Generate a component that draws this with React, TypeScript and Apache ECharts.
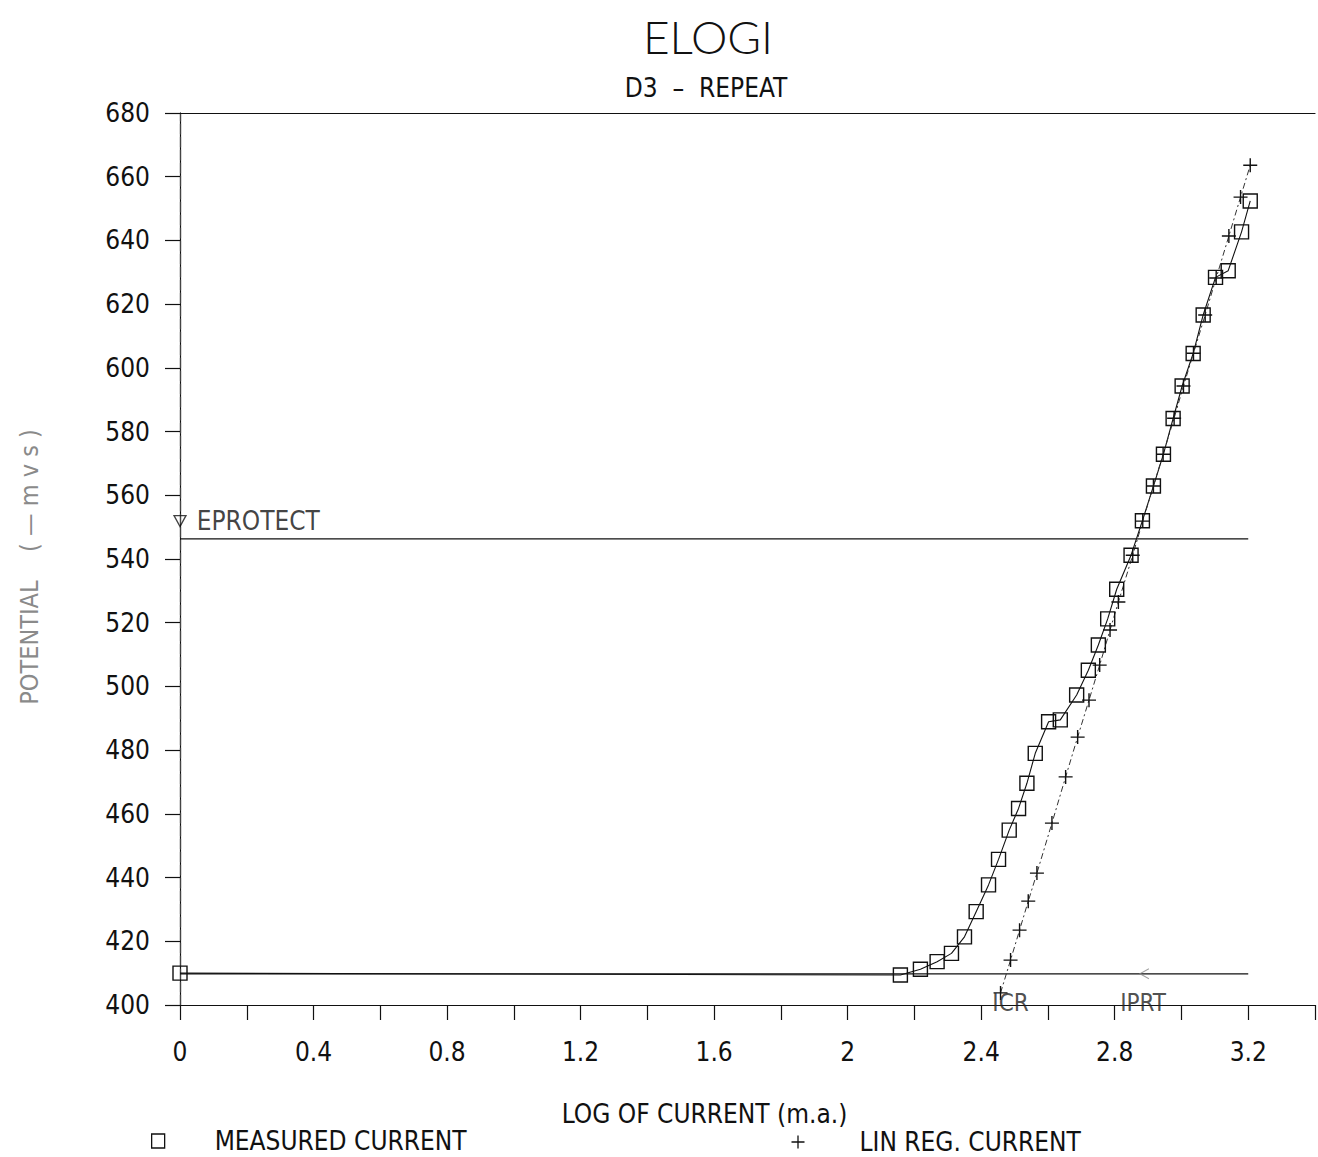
import React, { useEffect, useRef } from "react";
import * as echarts from "echarts";

// ---- data ----
const measuredX = [0, 2.158, 2.218, 2.268, 2.311, 2.35, 2.385, 2.422, 2.452, 2.484, 2.512, 2.537, 2.562, 2.602, 2.637, 2.686, 2.721, 2.751, 2.779, 2.806, 2.849, 2.883, 2.916, 2.946, 2.975, 3.002, 3.035, 3.065, 3.102, 3.14, 3.18, 3.206];
const measuredY = [410.0, 409.4, 411.2, 413.6, 416.2, 421.4, 429.3, 437.7, 445.7, 454.9, 461.7, 469.6, 479.0, 488.9, 489.5, 497.3, 505.1, 513.0, 521.2, 530.5, 541.2, 552.0, 562.9, 572.9, 584.1, 594.3, 604.5, 616.6, 628.4, 630.5, 642.7, 652.4];

const linRegX = [2.458, 2.488, 2.515, 2.541, 2.567, 2.612, 2.653, 2.689, 2.723, 2.755, 2.786, 2.811, 2.854, 2.884, 2.916, 2.945, 2.978, 3.006, 3.036, 3.071, 3.104, 3.142, 3.177, 3.206];
const linRegY = [403.8, 414.1, 423.5, 432.6, 441.4, 457.1, 471.6, 484.1, 495.7, 506.7, 517.7, 526.5, 541.2, 551.9, 562.9, 572.9, 584.2, 594.3, 604.6, 616.6, 628.2, 641.4, 653.6, 663.6];

const refLineX = [0, 3.2];
const eprotectY = 546.3;
const eprotectMarkY = 551.9;
const icorrY = 409.8;
const icrLabel = { x: 2.488, y: 400.6, text: "ICR" };
const iprtLabel = { x: 2.885, y: 400.6, text: "IPRT" };
const iprtArrow = { x: 2.88, y: 409.8 };

const xMin = 0;
const xMax = 3.4;
const xStep = 0.2;
const yMin = 400;
const yMax = 680;
const yStep = 20;

const titleText = "ELOGI";
const subTitleText = "D3  \u2013  REPEAT";
const xName = "LOG OF CURRENT (m.a.)";
const yName = "POTENTIAL    ( \u2014 m v s )";
const measuredName = "MEASURED CURRENT";
const linRegName = "LIN REG. CURRENT";

const FONT = "'Liberation Sans Narrow', 'DejaVu Sans Condensed', 'Liberation Sans', sans-serif";
const TITLE_FONT = "Lato, 'Liberation Sans', sans-serif";
const INK = "#111";

export default function App() {
  const ref = useRef<HTMLDivElement>(null);

  useEffect(() => {
    if (!ref.current) return;
    const chart = echarts.init(ref.current, undefined, { renderer: "svg" });

    const measured = measuredX.map((x, i) => [x, measuredY[i]]);
    const linReg = linRegX.map((x, i) => [x, linRegY[i]]);
    const eprotectLine = refLineX.map((x) => [x, eprotectY]);
    const icorrLine = refLineX.map((x) => [x, icorrY]);

    const option: any = {
      animation: false,
      backgroundColor: "#fff",
      textStyle: { fontFamily: FONT, color: INK },
      title: [
        {
          text: titleText,
          left: 703,
          top: 8,
          textAlign: "center",
          textStyle: { fontFamily: TITLE_FONT, fontSize: 46, fontWeight: 300, color: INK },
        },
        {
          text: subTitleText,
          left: 701,
          top: 70,
          textAlign: "center",
          textStyle: { fontFamily: FONT, fontSize: 26, fontWeight: "normal", color: INK },
        },
      ],
      grid: { left: 180, right: 1, top: 113, bottom: 152, containLabel: false },
      legend: [
        {
          left: 151,
          top: 1128,
          padding: 0,
          itemWidth: 13,
          itemHeight: 14,
          data: [
            {
              name: measuredName,
              icon: "rect",
              itemStyle: { color: "transparent", borderColor: INK, borderWidth: 1.3 },
            },
          ],
          textStyle: { fontFamily: FONT, fontSize: 26, lineHeight: 26, color: INK, padding: [0, 0, 0, 45] },
        },
        {
          left: 789,
          top: 1129,
          padding: 0,
          itemWidth: 13,
          itemHeight: 13,
          data: [
            {
              name: linRegName,
              icon: "path://M7,0V14M0,7H14",
              itemStyle: { color: "none", borderColor: INK, borderWidth: 1.3 },
            },
          ],
          textStyle: { fontFamily: FONT, fontSize: 26, lineHeight: 26, color: INK, padding: [0, 0, 0, 50] },
        },
      ],
      xAxis: [
        {
          type: "value",
          min: xMin,
          max: xMax,
          interval: xStep,
          name: xName,
          nameLocation: "middle",
          nameGap: 96,
          nameTextStyle: { fontFamily: FONT, fontSize: 26, color: INK, padding: [0, 86, 0, 0] },
          axisLine: { show: true, lineStyle: { color: INK, width: 1.2 } },
          axisTick: { show: true, inside: false, length: 15, lineStyle: { color: INK, width: 1.2 } },
          axisLabel: {
            margin: 34,
            fontFamily: FONT,
            fontSize: 26,
            color: INK,
            formatter: (v: number) => {
              const k = Math.round(v * 10);
              return k % 4 === 0 && k <= 32 ? String(k / 10) : "";
            },
          },
          splitLine: { show: false },
        },
        {
          type: "value",
          position: "top",
          min: xMin,
          max: xMax,
          axisLine: { show: true, lineStyle: { color: INK, width: 1.2 } },
          axisTick: { show: false },
          axisLabel: { show: false },
          splitLine: { show: false },
        },
      ],
      yAxis: [
        {
          type: "value",
          min: yMin,
          max: yMax,
          interval: yStep,
          name: yName,
          nameLocation: "middle",
          nameGap: 138,
          nameRotate: 90,
          nameTextStyle: { fontFamily: FONT, fontSize: 25, color: "#8a8a8a", padding: [0, 16, 0, 0] },
          axisLine: { show: true, lineStyle: { color: INK, width: 1.2 } },
          axisTick: { show: true, inside: false, length: 15, lineStyle: { color: INK, width: 1.2 } },
          axisLabel: { margin: 30, fontFamily: FONT, fontSize: 26, color: INK },
          splitLine: { show: false },
        },
        {
          type: "value",
          position: "right",
          min: yMin,
          max: yMax,
          axisLine: { show: true, lineStyle: { color: "#444", width: 1.2, type: [10, 3] } },
          axisTick: { show: false },
          axisLabel: { show: false },
          splitLine: { show: false },
        },
      ],
      series: [
        {
          name: "EPROTECT",
          type: "line",
          data: eprotectLine,
          symbol: "none",
          lineStyle: { color: INK, width: 1.2 },
          silent: true,
          z: 1,
        },
        {
          name: "ICORR",
          type: "line",
          data: icorrLine,
          symbol: "none",
          lineStyle: { color: INK, width: 1.2 },
          silent: true,
          z: 1,
        },
        {
          name: measuredName,
          type: "line",
          data: measured,
          symbol: "rect",
          symbolSize: 14,
          itemStyle: { color: "transparent", borderColor: INK, borderWidth: 1.4 },
          lineStyle: { color: INK, width: 1.1 },
          z: 3,
        },
        {
          name: linRegName,
          type: "line",
          data: linReg,
          symbol: "path://M7,0V14M0,7H14",
          symbolSize: 14,
          itemStyle: { color: "none", borderColor: INK, borderWidth: 1.4 },
          lineStyle: { color: "#333", width: 1, type: [6, 3, 2, 3] },
          z: 3,
        },
        {
          name: "EPROTECT mark",
          type: "scatter",
          data: [[0, eprotectMarkY]],
          symbol: "triangle",
          symbolRotate: 180,
          symbolSize: [12, 11],
          itemStyle: { color: "transparent", borderColor: INK, borderWidth: 1.3 },
          label: {
            show: true,
            position: "right",
            distance: 10,
            formatter: "EPROTECT",
            fontFamily: FONT,
            fontSize: 26,
            color: INK,
          },
          z: 4,
        },
        {
          name: "IPRT arrow",
          type: "scatter",
          data: [[iprtArrow.x, iprtArrow.y]],
          symbol: "path://M10,0L0,5L10,10",
          symbolSize: [9, 10],
          symbolOffset: [3, 0],
          itemStyle: { color: "none", borderColor: "#888", borderWidth: 1 },
          z: 4,
        },
        {
          name: "Markers",
          type: "scatter",
          symbolSize: 0,
          data: [
            { value: [icrLabel.x, icrLabel.y], name: icrLabel.text },
            { value: [iprtLabel.x, iprtLabel.y], name: iprtLabel.text },
          ],
          label: {
            show: true,
            position: "inside",
            formatter: (p: any) => p.name,
            fontFamily: FONT,
            fontSize: 24,
            color: "#222",
          },
          z: 4,
        },
      ],
    };

    chart.setOption(option);
    return () => chart.dispose();
  }, []);

  return (
    <div
      ref={ref}
      style={{ position: "absolute", left: 0, top: 0, width: 1318, height: 1157, background: "#fff" }}
    />
  );
}
